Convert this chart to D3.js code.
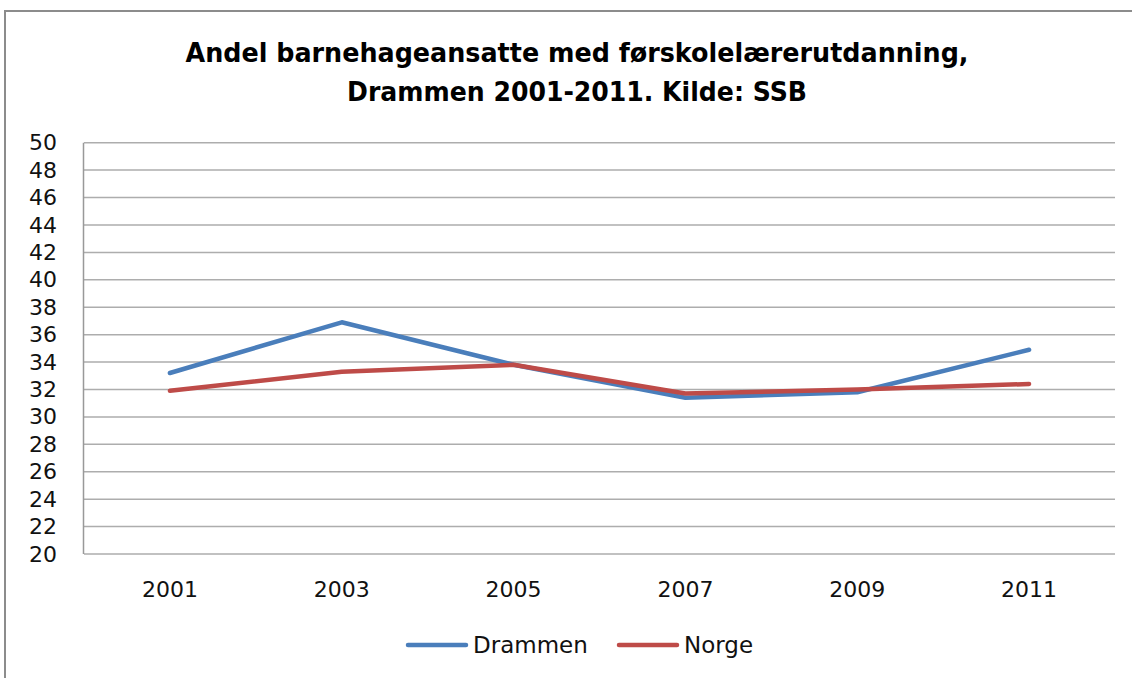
<!DOCTYPE html>
<html><head><meta charset="utf-8">
<script src="https://cdn.jsdelivr.net/npm/d3@7"></script>
<style>body{margin:0;background:#fff}svg{display:block}</style>
</head><body><svg id="c" width="1132" height="678"></svg>
<script>
const years = ["2001","2003","2005","2007","2009","2011"];
const drammen = [33.2, 36.9, 33.8, 31.4, 31.8, 34.9];
const norge = [31.9, 33.3, 33.8, 31.7, 32.0, 32.4];
const yTicks = [20,22,24,26,28,30,32,34,36,38,40,42,44,46,48,50];
const seriesNames = ["Drammen","Norge"];
const colors = ["#4a7ebb","#be4b48"];

const svg = d3.select("#c");
// outer frame
svg.append("rect").attr("x",5).attr("y",11).attr("width",1140).attr("height",680)
  .attr("fill","none").attr("stroke","#8c8c8c").attr("stroke-width",2);

const x = d3.scaleBand().domain(years).range([84,1115]);
const y = d3.scaleLinear().domain([20,50]).range([554,142.7]);

// gridlines
svg.append("g").selectAll("line").data(yTicks).join("line")
  .attr("x1",84).attr("x2",1115).attr("y1",d=>y(d)).attr("y2",d=>y(d))
  .attr("stroke","#adadad").attr("stroke-width",1.5);
svg.append("line").attr("x1",83.5).attr("x2",83.5).attr("y1",y(50)).attr("y2",y(20))
  .attr("stroke","#999").attr("stroke-width",1.5);

const yAxis = svg.append("g").attr("transform","translate(84,0)")
  .call(d3.axisLeft(y).tickValues(yTicks).tickSize(0).tickPadding(27));
yAxis.select(".domain").remove();
yAxis.selectAll("text").attr("font-family","DejaVu Sans").attr("font-size",22).attr("fill","#111");

const xAxis = svg.append("g").attr("transform","translate(0,554)")
  .call(d3.axisBottom(x).tickSize(0).tickPadding(27));
xAxis.select(".domain").remove();
xAxis.selectAll("text").attr("font-family","DejaVu Sans").attr("font-size",22).attr("fill","#111");

const line = d3.line().x((d,i)=>x(years[i])+x.bandwidth()/2).y(d=>y(d));
[drammen,norge].forEach((s,k)=>{
  svg.append("path").datum(s).attr("d",line).attr("fill","none")
    .attr("stroke",colors[k]).attr("stroke-width",4.5).attr("stroke-linejoin","round").attr("stroke-linecap","round");
});

// title
const t = svg.append("text").attr("text-anchor","middle").attr("font-family","DejaVu Sans")
  .attr("font-weight","bold").attr("font-size",26).attr("fill","#000");
t.append("tspan").attr("x",577).attr("y",62).text("Andel barnehageansatte med førskolelærerutdanning,")
  .attr("textLength",783).attr("lengthAdjust","spacingAndGlyphs");
t.append("tspan").attr("x",577).attr("y",101).text("Drammen 2001-2011. Kilde: SSB")
  .attr("textLength",460).attr("lengthAdjust","spacingAndGlyphs");

// legend
const legX = [408, 619];
seriesNames.forEach((n,k)=>{
  svg.append("line").attr("x1",legX[k]).attr("x2",legX[k]+58).attr("y1",645).attr("y2",645)
    .attr("stroke",colors[k]).attr("stroke-width",4.5).attr("stroke-linecap","round");
  svg.append("text").attr("x",legX[k]+65).attr("y",653).attr("font-family","DejaVu Sans")
    .attr("font-size",23).attr("fill","#111").text(n);
});
</script></body></html>
